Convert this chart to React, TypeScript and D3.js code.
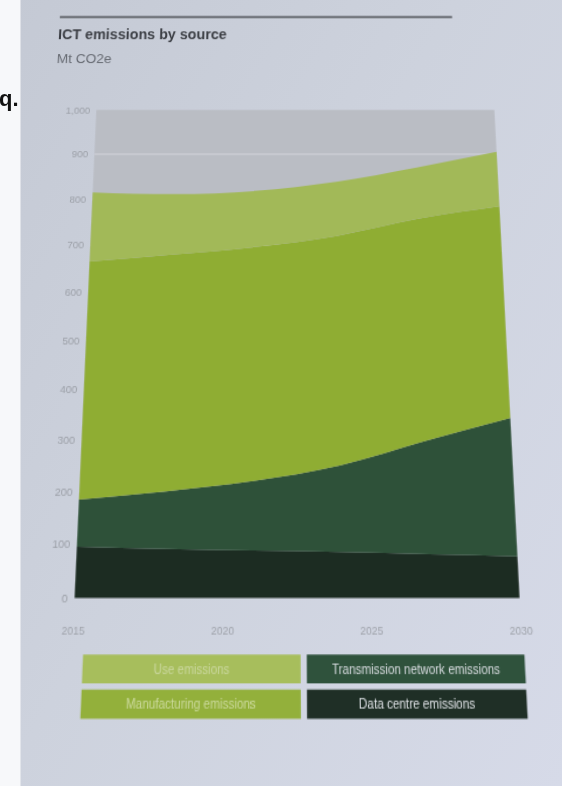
import React from "react";
import * as d3 from "d3";

// ---- data ----
const years = [2015, 2018, 2021, 2024, 2027, 2030];
const dataCentre = [95, 91, 88, 85, 81, 77];
const transmission = [89, 109, 132, 165, 217, 266];
const manufacturing = [481, 480, 476, 470, 459, 441];
const useEmissions = [150, 131, 122, 118, 113, 121];

const seriesKeys = ["dataCentre", "transmission", "manufacturing", "use"];
const seriesLabels: Record<string, string> = {
  use: "Use emissions",
  manufacturing: "Manufacturing emissions",
  transmission: "Transmission network emissions",
  dataCentre: "Data centre emissions",
};
const legendOrder = [
  ["use", "transmission"],
  ["manufacturing", "dataCentre"],
];
const yTicks = [0, 100, 200, 300, 400, 500, 600, 700, 800, 900, 1000];
const xTicks = [2015, 2020, 2025, 2030];

const title = "ICT emissions by source";
const subtitle = "Mt CO2e";

// ---- styling ----
const areaColors: Record<string, string> = {
  use: "#a2b958",
  manufacturing: "#8fad33",
  transmission: "#2e5139",
  dataCentre: "#1c2c22",
};
const legendColors: Record<string, string> = {
  use: "#a7be5c",
  manufacturing: "#93b03b",
  transmission: "#2f523c",
  dataCentre: "#1f2f26",
};
const legendText: Record<string, string> = {
  use: "#cad79e",
  manufacturing: "#cbd99c",
  transmission: "#d8dce0",
  dataCentre: "#dfe2e6",
};

const FONT = "'Liberation Sans', Arial, sans-serif";

export default function App() {
  const plot = { left: 101.3, right: 488.7, top: 110.3, bottom: 536.5 };
  const x = d3.scaleLinear().domain([2015, 2030]).range([plot.left, plot.right]);
  const y = d3.scaleLinear().domain([0, 1000]).range([plot.bottom, plot.top]);

  const table = years.map((yr, i) => ({
    year: yr,
    dataCentre: dataCentre[i],
    transmission: transmission[i],
    manufacturing: manufacturing[i],
    use: useEmissions[i],
  }));
  const stacked = d3.stack<any>().keys(seriesKeys)(table);
  const area = d3
    .area<any>()
    .x((d) => x(d.data.year))
    .y0((d) => y(d[0]))
    .y1((d) => y(d[1]))
    .curve(d3.curveMonotoneX);

  const fmt = d3.format(",");

  const legendX = [110.7, 303.2];
  const legendW = 187.2;
  const legendY = [580.2, 606.7];
  const legendH = 21.8;

  return (
    <div
      style={{
        position: "fixed",
        left: 0,
        top: 0,
        width: 562,
        height: 786,
        overflow: "hidden",
        background: "linear-gradient(120deg, #c4c9d4 0%, #cdd2dd 45%, #d6dae8 100%)",
      }}
    >
      <svg
        width={562}
        height={786}
        style={{
          position: "absolute",
          left: 0,
          top: 0,
          overflow: "visible",
          transformOrigin: "281px 0px",
          transform: "perspective(1000px) rotateX(13.93deg)",
        }}
        fontFamily={FONT}
      >
        {/* title rule */}
        <line x1={60.8} x2={451.4} y1={17.4} y2={17.4} stroke="#5b5e64" strokeWidth={2} />
        <text x={60} y={39.8} fontSize={14.2} fontWeight="bold" fill="#3b3e44">
          {title}
        </text>
        <text x={60} y={63.9} fontSize={13.5} fill="#666a72">
          {subtitle}
        </text>

        {/* plot background */}
        <rect
          x={plot.left}
          y={plot.top}
          width={plot.right - plot.left}
          height={plot.bottom - plot.top}
          fill="#babdc4"
        />
        {yTicks
          .filter((t) => t > 0 && t < 1000)
          .map((t) => (
            <line
              key={"g" + t}
              x1={plot.left}
              x2={plot.right}
              y1={y(t)}
              y2={y(t)}
              stroke="#cbced5"
              strokeWidth={1.5}
            />
          ))}

        {/* stacked areas */}
        {stacked.map((s) => (
          <path key={s.key} d={area(s as any) || ""} fill={areaColors[s.key]} />
        ))}

        {/* y labels */}
        {yTicks.map((t) => (
          <text
            key={"y" + t}
            x={plot.left - 6}
            y={y(t)}
            dy="0.35em"
            textAnchor="end"
            fontSize={9.5}
            fill="#9ca0a8"
          >
            {fmt(t)}
          </text>
        ))}

        {/* x labels */}
        {xTicks.map((t) => (
          <text
            key={"x" + t}
            x={x(t)}
            y={565}
            textAnchor="middle"
            fontSize={9}
            fill="#a0a4ac"
          >
            {t}
          </text>
        ))}

        {/* legend */}
        {legendOrder.map((row, ri) =>
          row.map((k, ci) => (
            <g key={k}>
              <rect
                x={legendX[ci]}
                y={legendY[ri]}
                width={legendW}
                height={legendH}
                fill={legendColors[k]}
              />
              <text
                x={legendX[ci] + legendW / 2}
                y={legendY[ri] + legendH / 2}
                dy="0.35em"
                textAnchor="middle"
                fontSize={10}
                fill={legendText[k]}
              >
                {seriesLabels[k]}
              </text>
            </g>
          ))
        )}
      </svg>

      {/* neighbouring page strip at the left edge of the photo */}
      <svg width={562} height={786} style={{ position: "absolute", left: 0, top: 0 }}>
        <rect x={0} y={0} width={20.5} height={786} fill="#f7f8fa" />
        <text x={-1} y={106} fontSize={22} fontWeight="bold" fontFamily={FONT} fill="#111">
          q.
        </text>
      </svg>
    </div>
  );
}
